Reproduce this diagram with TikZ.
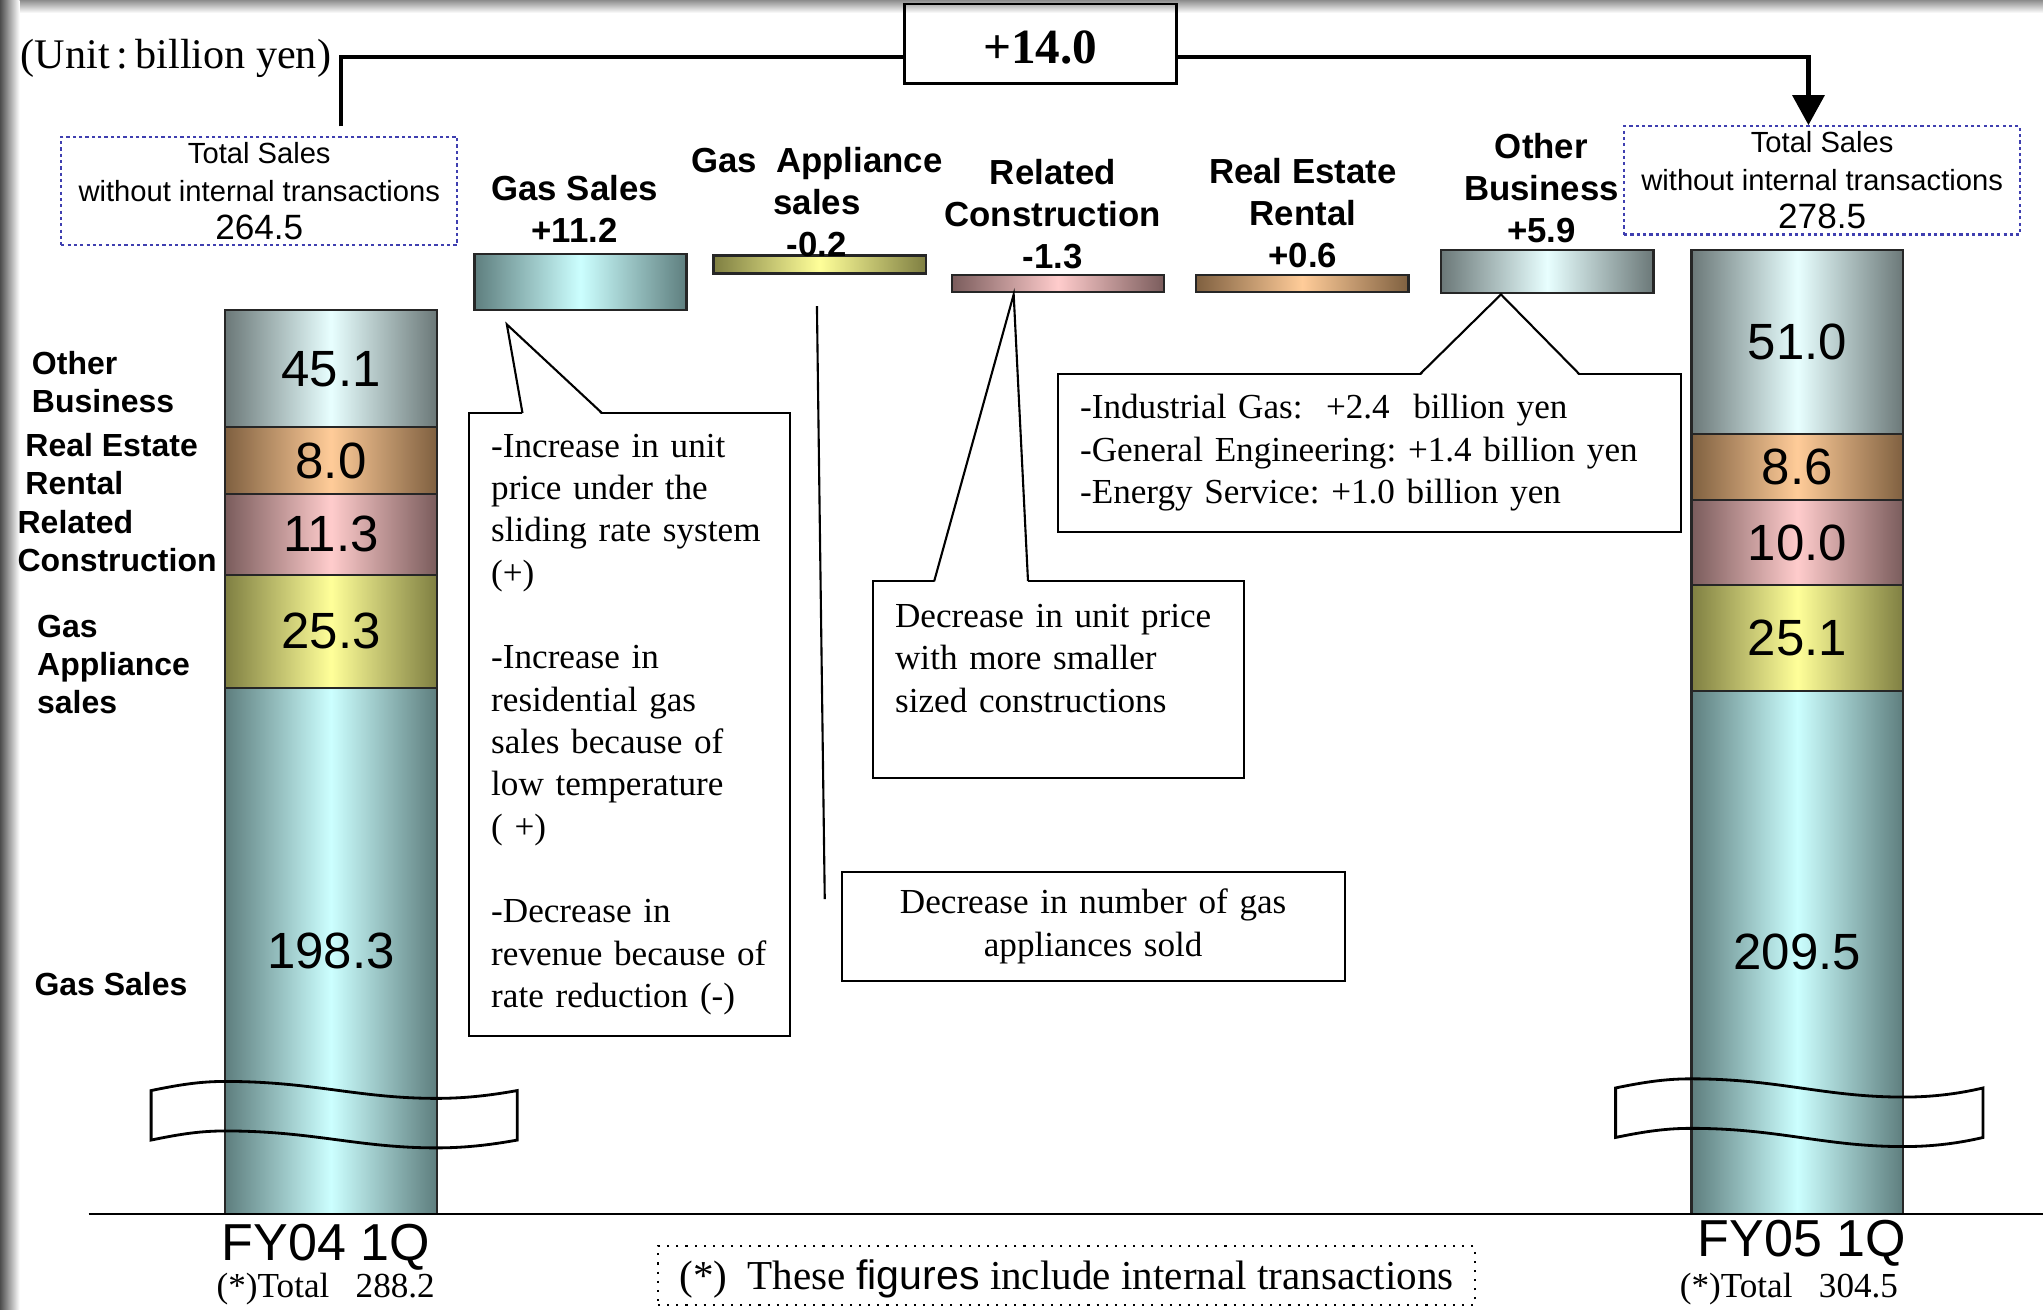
\documentclass[tikz,border=0pt]{standalone}
\usepackage{fontspec}
\setmainfont{Liberation Serif}
\setsansfont{Liberation Sans}
\usetikzlibrary{positioning,arrows.meta,calc}
\frenchspacing
\definecolor{gasdk}{HTML}{5E7E7E}
\definecolor{gaslt}{HTML}{CCFFFF}
\definecolor{othdk}{HTML}{6B7878}
\definecolor{othlt}{HTML}{E8FFFF}
\definecolor{readk}{HTML}{7F6040}
\definecolor{realt}{HTML}{FFCC99}
\definecolor{reldk}{HTML}{7A5C5C}
\definecolor{rellt}{HTML}{FFCCCC}
\definecolor{appdk}{HTML}{7F7F42}
\definecolor{applt}{HTML}{FFFF99}
\definecolor{dotblue}{HTML}{3F3FB0}
\newcommand{\dunit}{0.013029cm}
\newcommand{\callptr}[3]{%
  \fill[white] ($(#2)+(0,1.5)$) -- (#1) -- ($(#3)+(0,1.5)$) -- cycle;
  \draw[line width=0.6pt] (#2) -- (#1) -- (#3);
}
\tikzset{
  gasshade/.style={left color=gasdk, right color=gasdk, middle color=gaslt},
  othshade/.style={left color=othdk, right color=othdk, middle color=othlt},
  reashade/.style={left color=readk, right color=readk, middle color=realt},
  relshade/.style={left color=reldk, right color=reldk, middle color=rellt},
  appshade/.style={left color=appdk, right color=appdk, middle color=applt},
  seg/.style={draw=black!85, line width=0.6pt, minimum width=162.5*\dunit, inner sep=0pt, outer sep=0pt,
    font=\sffamily\fontsize{14.5}{16}\selectfont},
  dbar/.style={draw=black!85, line width=0.7pt, minimum width=163*\dunit, inner sep=0pt, outer sep=0pt},
  toplabel/.style={font=\sffamily\bfseries\fontsize{9.9}{12}\selectfont, align=center, inner sep=0pt},
  sidelabel/.style={font=\sffamily\bfseries\fontsize{9.1}{10.9}\selectfont, align=left, inner sep=0pt, anchor=west},
  note/.style={draw, line width=0.6pt, font=\fontsize{10}{12.05}\selectfont, align=left,
    inner xsep=17*\dunit, inner ysep=0pt, outer sep=0pt},
  totbox/.style={draw=dotblue, dash pattern=on 0.9pt off 0.9pt, line width=0.6pt, minimum width=304*\dunit,
    minimum height=83*\dunit, align=center, inner sep=0pt, font=\sffamily\fontsize{8.3}{10.8}\selectfont},
  brk/.style={line width=0.8pt},
  bracket/.style={line width=1.2pt}
}
\begin{document}
\begin{tikzpicture}[x=0.013029cm, y=-0.013029cm]
  \useasboundingbox (0,0) rectangle (1568,1005);
  % slide frame
  \fill[white] (0,0) rectangle (1568,1005);
  \shade[top color=black!45, bottom color=white] (0,0) rectangle (1568,10);
  \shade[left color=black!70, right color=white] (0,0) rectangle (15,1005);

  % unit and total change
  \node[font=\fontsize{12}{14}\selectfont, inner sep=0pt] (unit) at (135,45) {(Unit\,:\,billion yen)};
  \node[draw, line width=0.8pt, minimum width=209*\dunit, minimum height=61*\dunit, text height=11.5pt, text depth=0pt,
    font=\bfseries\fontsize{14}{16}\selectfont] (delta) at (798.5,33.5) {+14.0};
  \node[totbox] (totA) at (199,146.5) {Total Sales\\without internal transactions\\{\fontsize{10}{10.8}\selectfont 264.5}};
  \node[totbox] (totB) at (1398.5,138.5) {Total Sales\\without internal transactions\\{\fontsize{10}{10.8}\selectfont 278.5}};
  \coordinate (brkL) at (262,97);
  \coordinate (brkR) at (1388,96);
  \draw[bracket] (brkL) |- ($(delta.west)+(0,10.5)$);
  \draw[bracket, -{Triangle[length=8.5pt, width=9pt]}] ($(delta.east)+(0,10.5)$) -| (brkR);

  % FY04 1Q bar
  \node[seg, gasshade, minimum height=404*\dunit, anchor=south] (a-gas) at (254,932) {198.3};
  \node[seg, appshade, minimum height=87*\dunit, above=0pt of a-gas] (a-app) {25.3};
  \node[seg, relshade, minimum height=62*\dunit, above=0pt of a-app] (a-rel) {11.3};
  \node[seg, reashade, minimum height=51*\dunit, above=0pt of a-rel] (a-rea) {8.0};
  \node[seg, othshade, minimum height=90*\dunit, above=0pt of a-rea] (a-oth) {45.1};

  % FY05 1Q bar
  \node[seg, gasshade, minimum height=402*\dunit, anchor=south] (b-gas) at (1379.5,932) {209.5};
  \node[seg, appshade, minimum height=81*\dunit, above=0pt of b-gas] (b-app) {25.1};
  \node[seg, relshade, minimum height=65*\dunit, above=0pt of b-app] (b-rel) {10.0};
  \node[seg, reashade, minimum height=51*\dunit, above=0pt of b-rel] (b-rea) {8.6};
  \node[seg, othshade, minimum height=141*\dunit, above=0pt of b-rea] (b-oth) {51.0};

  % axis breaks
  \draw[brk] (116,837) .. controls (140,832) and (155,830) .. (173,830)
    .. controls (240,830) and (275,843) .. (335,843) .. controls (360,843) and (380,840) .. (397,837)
    -- (397,875) .. controls (380,878) and (360,881) .. (335,881)
    .. controls (275,881) and (240,868) .. (173,868) .. controls (155,868) and (140,870) .. (116,875) -- cycle;
  \draw[brk] (1240,835) .. controls (1264,830) and (1280,828) .. (1298,828)
    .. controls (1365,828) and (1400,842) .. (1461,842) .. controls (1485,842) and (1505,839) .. (1522,835)
    -- (1522,873) .. controls (1505,877) and (1485,880) .. (1461,880)
    .. controls (1400,880) and (1365,866) .. (1298,866) .. controls (1280,866) and (1264,868) .. (1240,873) -- cycle;

  % baseline and periods
  \draw[line width=0.6pt] (68,932) -- (1568,932);
  \node[font=\sffamily\fontsize{14.8}{16}\selectfont, inner sep=0pt] (fyA) at (250,957) {FY04 1Q};
  \node[font=\fontsize{10}{12}\selectfont, inner sep=0pt] (sumA) at (250,989) {(*)Total\ \ \ 288.2};
  \node[font=\sffamily\fontsize{14.8}{16}\selectfont, inner sep=0pt] (fyB) at (1383,954) {FY05 1Q};
  \node[font=\fontsize{10}{12}\selectfont, inner sep=0pt] (sumB) at (1373,989) {(*)Total\ \ \ 304.5};
  \node[draw, dotted, line width=0.6pt, minimum width=627*\dunit, minimum height=38*\dunit, text height=9pt, text depth=1pt,
    font=\fontsize{11.7}{14}\selectfont] (foot) at (818.5,979) {(*)\ \ These {\sffamily figures} include internal transactions};

  % changes by segment
  \node[dbar, gasshade, minimum height=43*\dunit] (d-gas) at (445.5,216.5) {};
  \node[dbar, appshade, minimum height=14*\dunit] (d-app) at (629,203) {};
  \node[dbar, relshade, minimum height=13*\dunit] (d-rel) at (812,217.5) {};
  \node[dbar, reashade, minimum height=13*\dunit] (d-rea) at (999.5,217.5) {};
  \node[dbar, othshade, minimum height=33*\dunit] (d-oth) at (1187.5,208.5) {};
  \node[toplabel] (l-gas) at (441,160.5) {Gas Sales\\+11.2};
  \node[toplabel] (l-app) at (627,155) {Gas\ \ Appliance\\sales\\-0.2};
  \node[toplabel] (l-rel) at (808,164.5) {Related\\Construction\\-1.3};
  \node[toplabel] (l-rea) at (1000,163.5) {Real Estate\\Rental\\+0.6};
  \node[toplabel] (l-oth) at (1183,144.5) {Other\\Business\\+5.9};

  % segment names
  \node[sidelabel] (s-oth) at (24,293.5) {Other\\Business};
  \node[sidelabel] (s-rea) at (19,356) {Real Estate\\Rental};
  \node[sidelabel] (s-rel) at (13,415) {Related\\Construction};
  \node[sidelabel] (s-app) at (28,510) {Gas\\Appliance\\sales};
  \node[sidelabel] (s-gas) at (26,755) {Gas Sales};

  % notes
  \node[note, text width=212*\dunit, minimum height=478*\dunit] (gasnote) at (483,556)
    {-Increase in unit\\price under the\\sliding rate system\\(+)\\[12.05pt]-Increase in\\residential gas\\sales because of\\low temperature\\( +)\\[12.05pt]-Decrease in\\revenue because of\\rate reduction (-)};
  \node[note, text width=251*\dunit, minimum height=151*\dunit] (relnote) at (812.5,521.5)
    {Decrease in unit price\\with more smaller\\sized constructions\\\mbox{}};
  \node[note, text width=444*\dunit, minimum height=121*\dunit] (othnote) at (1051,347.5)
    {-Industrial Gas:\ \ +2.4\ \ billion yen\\-General Engineering: +1.4 billion yen\\-Energy Service: +1.0 billion yen};
  \node[note, align=center, text width=352*\dunit, minimum height=84*\dunit] (appnote) at (839,711)
    {Decrease in number of gas\\appliances sold};

  % pointers
  \coordinate (g-tip) at ($(d-gas.south)+(-56.5,11)$);
  \coordinate (g-l) at ($(gasnote.north west)+(41,0)$);
  \coordinate (g-r) at ($(gasnote.north west)+(102,0)$);
  \callptr{g-tip}{g-l}{g-r}
  \coordinate (r-tip) at ($(d-rel.south)+(-34,2)$);
  \coordinate (r-l) at ($(relnote.north west)+(47,0)$);
  \coordinate (r-r) at ($(relnote.north west)+(119,0)$);
  \callptr{r-tip}{r-l}{r-r}
  \coordinate (o-tip) at ($(d-oth.south)+(-35.5,1)$);
  \coordinate (o-l) at ($(othnote.north west)+(278,0)$);
  \coordinate (o-r) at ($(othnote.north west)+(400,0)$);
  \callptr{o-tip}{o-l}{o-r}
  \coordinate (ap-top) at ($(d-app.south)+(-2,25)$);
  \coordinate (ap-bot) at ($(appnote.west)+(-13,-21)$);
  \draw[line width=0.6pt] (ap-top) -- (ap-bot);
\end{tikzpicture}
\end{document}
